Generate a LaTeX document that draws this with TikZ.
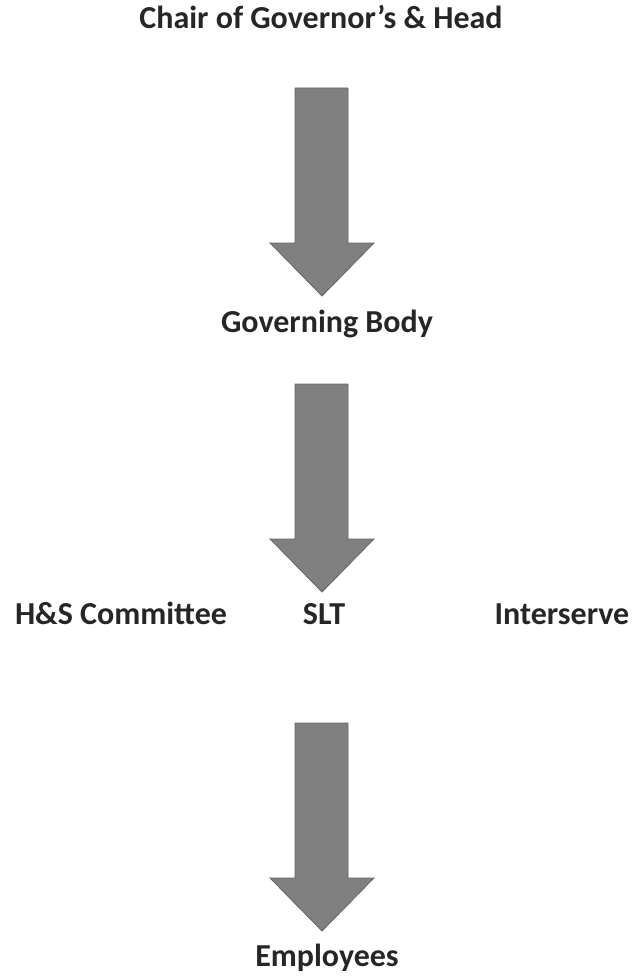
\documentclass[tikz,border=0pt]{standalone}
\usepackage{fontspec}
\setmainfont{Carlito}
\usetikzlibrary{positioning}

\begin{document}
\begin{tikzpicture}[x=1pt, y=-1pt,
title_text/.style={font=\bfseries\fontsize{32}{35}\selectfont, text=black!85, anchor=base, inner sep=0pt},
block_arrow/.style={fill=black!50, draw=black!60, line width=0.8pt}
]
\useasboundingbox (0,0) rectangle (635,976);

% Draw the labels
    \node[title_text] (chair) at (321,29) {Chair of Governor’s \& Head};
    \node[title_text] (govbody) at (327,332) {Governing Body};
    \node[title_text] (hscomm) at (121,624) {H\&S Committee};
    \node[title_text] (slt) at (324,624) {SLT};
    \node[title_text] (interserve) at (562,624) {Interserve};
    \node[title_text] (employees) at (327,966) {Employees};

% Draw the block arrows
    \foreach \top in {88,384,723}{
        \draw[block_arrow] (295,\top) -- (348,\top) -- (348,\top+155) -- (374,\top+155)
            -- (322,\top+208) -- (270,\top+155) -- (295,\top+155) -- cycle;
    }
\end{tikzpicture}
\end{document}
